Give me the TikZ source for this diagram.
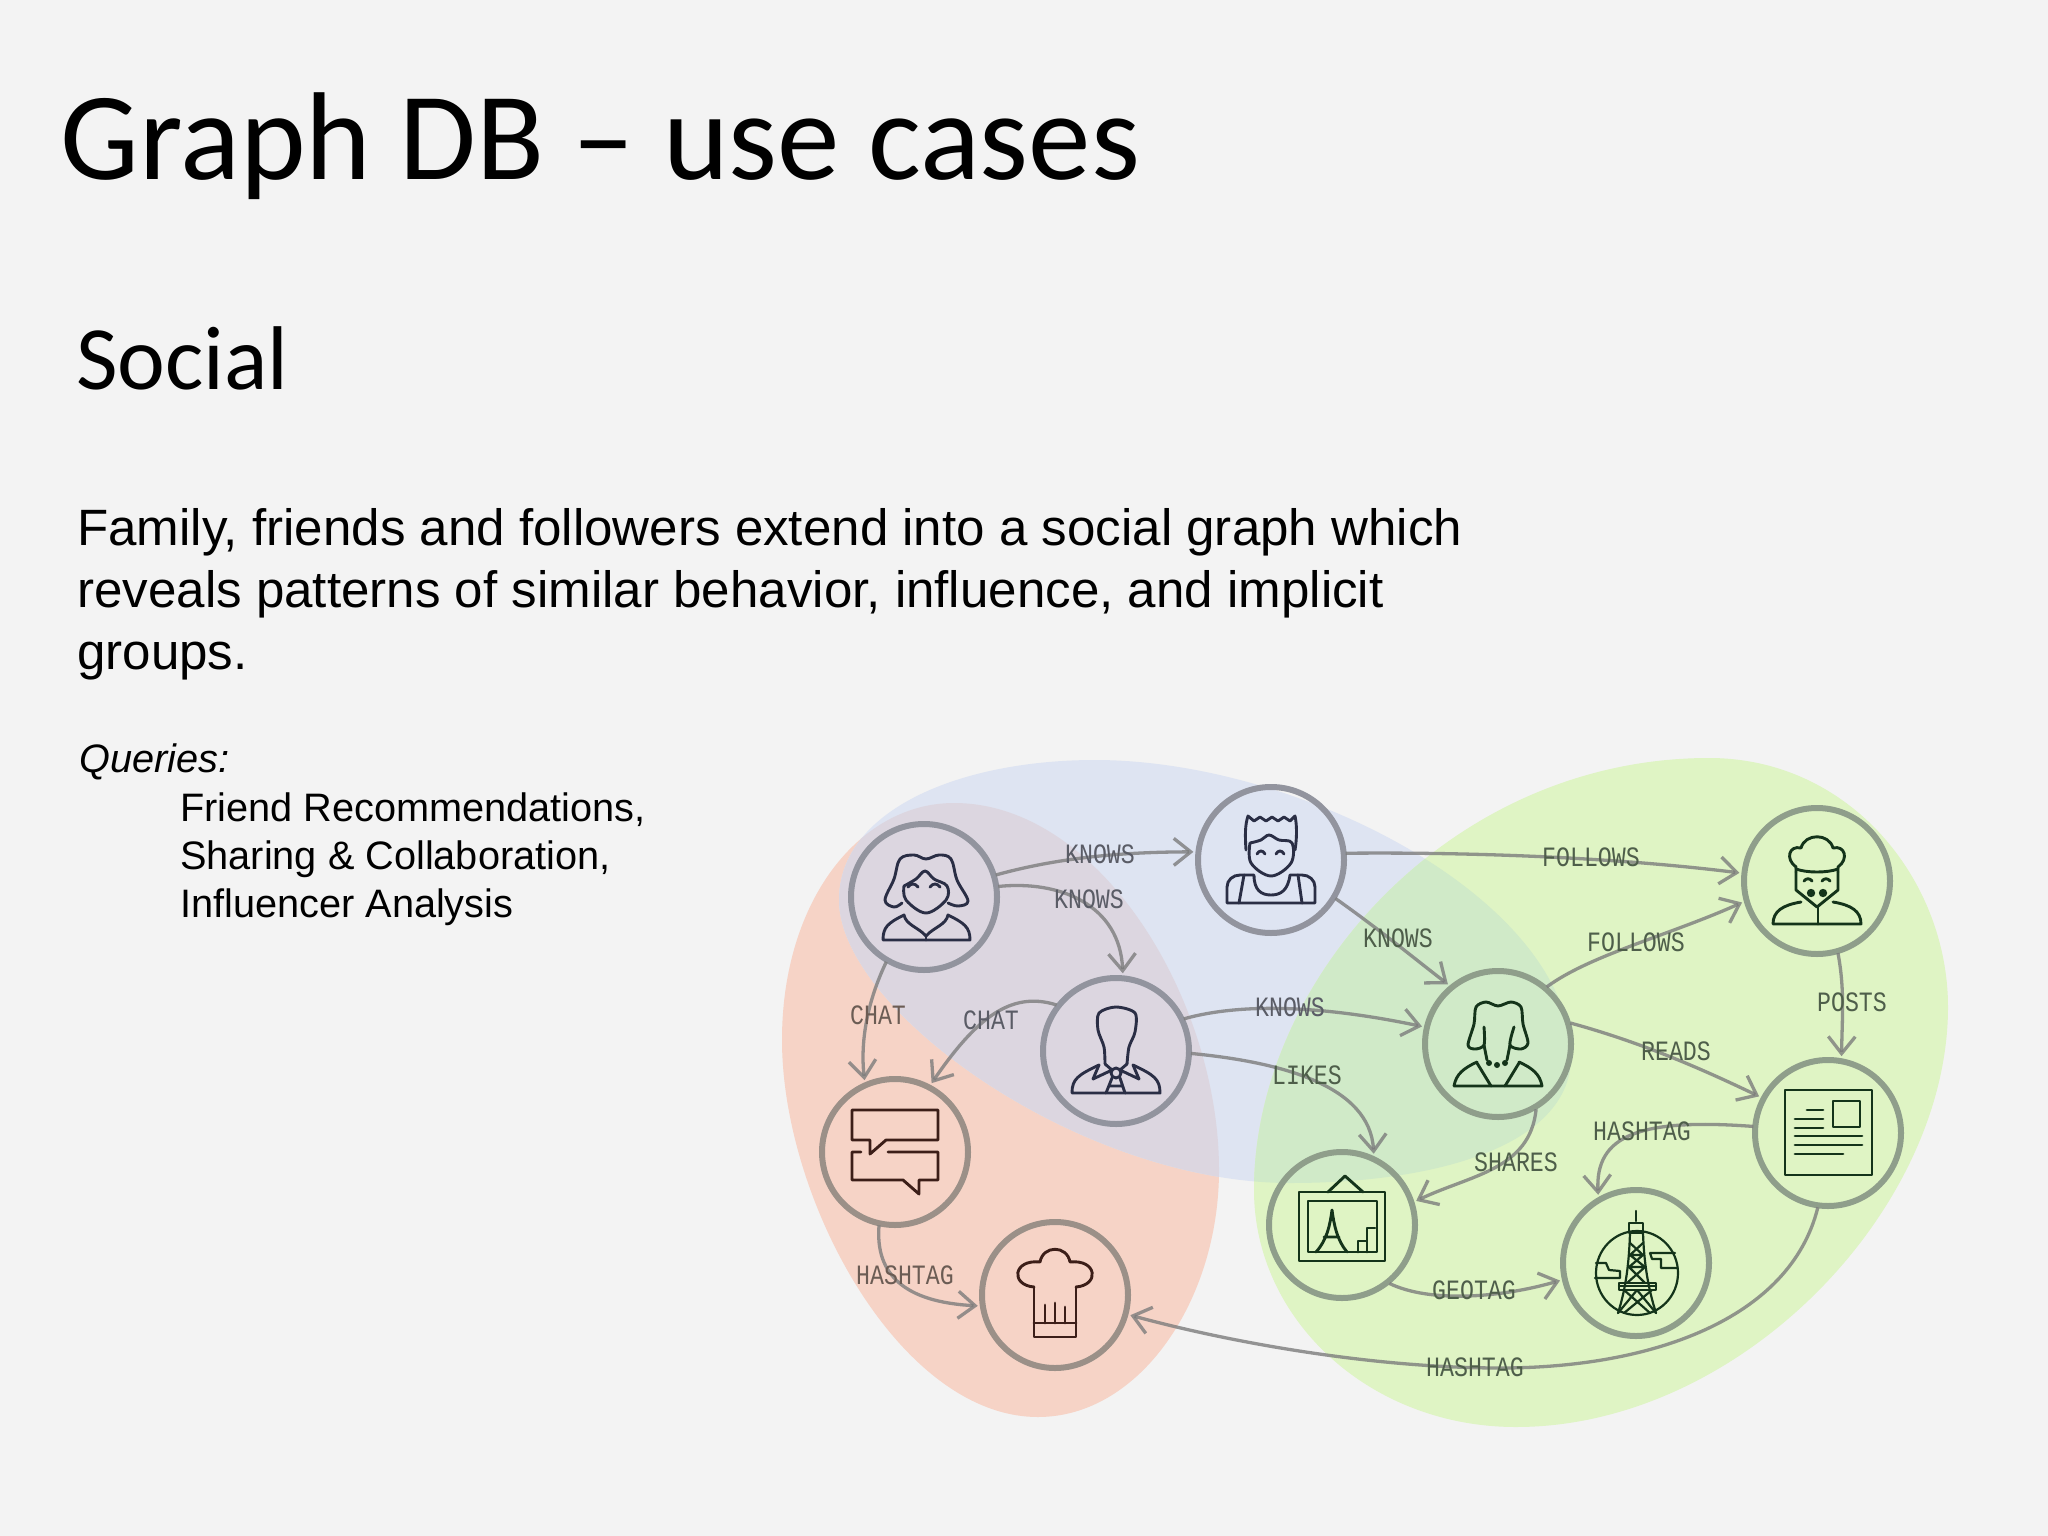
\documentclass[tikz,border=0pt]{standalone}
\usepackage{fontspec}
\setmainfont{Liberation Sans}
\newfontfamily\titlefont{Carlito}
\newfontfamily\edgefont[FakeStretch=0.83]{Liberation Mono}
\usetikzlibrary{arrows.meta}
\definecolor{pagebg}{HTML}{F3F3F3}
\definecolor{blobo}{HTML}{F6D3C6}
\definecolor{blobb}{HTML}{DEE4F2}
\definecolor{blobg}{HTML}{DFF4C4}
\definecolor{overob}{HTML}{DCD6E0}
\definecolor{overbg}{HTML}{D0EAC8}
\definecolor{ringo}{HTML}{9B9088}
\definecolor{ringb}{HTML}{92949E}
\definecolor{ringg}{HTML}{8F9E8B}
\definecolor{inko}{HTML}{3C1E18}
\definecolor{inkb}{HTML}{2A2E45}
\definecolor{inkg}{HTML}{14341A}
\definecolor{edgec}{HTML}{7C7C7C}
\definecolor{lblo}{HTML}{6B5C54}
\definecolor{lblb}{HTML}{5A5C66}
\definecolor{lblg}{HTML}{4E5E4A}
\tikzset{
  ring/.style={circle,draw=#1,line width=6pt,minimum size=146pt,inner sep=0pt,outer sep=5pt},
  edgeline/.style={draw=edgec,draw opacity=.8,line width=3.3pt,shorten <=-3pt,-{Straight Barb[length=17pt,width=27pt,line width=3.3pt]}},
  edgelabel/.style={text=#1,font=\edgefont\fontsize{28}{30}\selectfont,inner sep=0pt},
  icon/.style={draw=#1,line width=2.9pt,line join=round,line cap=round},
  slidetext/.style={anchor=north west,align=left,inner sep=0pt,text=black}
}
\def\orangeblob{(782,1040) .. controls (782,900) and (860,803) .. (954,803) .. controls (1100,803) and (1219,1000) .. (1219,1170) .. controls (1219,1300) and (1140,1417) .. (1038,1417) .. controls (900,1417) and (782,1200) .. (782,1040) -- cycle}
\def\blueblob{(839,900) .. controls (839,810) and (960,760) .. (1095,760) .. controls (1300,760) and (1571,900) .. (1571,1057) .. controls (1571,1140) and (1450,1183) .. (1290,1183) .. controls (1080,1183) and (839,1010) .. (839,900) -- cycle}
\def\greenblob{(1254,1190) .. controls (1254,980) and (1450,758) .. (1709,758) .. controls (1850,758) and (1948,880) .. (1948,1007) .. controls (1948,1210) and (1740,1427) .. (1516,1427) .. controls (1370,1427) and (1254,1320) .. (1254,1190) -- cycle}
\begin{document}
\begin{tikzpicture}[x=1pt,y=-1pt]
\useasboundingbox (0,0) rectangle (2048,1536);
\fill[pagebg] (0,0) rectangle (2048,1536);

% regions
\fill[blobo] \orangeblob;
\fill[blobb] \blueblob;
\fill[blobg] \greenblob;
\begin{scope}\clip \orangeblob; \fill[overob] \blueblob; \end{scope}
\begin{scope}\clip \greenblob; \fill[overbg] \blueblob; \end{scope}

% slide text
\node[anchor=base west,inner sep=0pt,font=\titlefont\fontsize{125}{130}\selectfont] (title) at (60,179) {Graph DB – use cases};
\node[anchor=base west,inner sep=0pt,font=\titlefont\fontsize{90.5}{96}\selectfont] (social) at (76,389) {Social};
\node[slidetext,font=\fontsize{51.1}{62}\selectfont] (intro) at (77,508) {Family, friends and followers extend into a social graph which\\reveals patterns of similar behavior, influence, and implicit\\groups.};
\node[anchor=base west,inner sep=0pt,font=\itshape\fontsize{39.7}{48}\selectfont] (queries) at (79,772) {Queries:};
\node[slidetext,font=\fontsize{39.7}{47.8}\selectfont] (qlist) at (180,792.5) {Friend Recommendations,\\Sharing \& Collaboration,\\Influencer Analysis};

% person / thing circles
\node[ring=ringb] (woman) at (924,897) {};
\node[ring=ringb] (man) at (1271,860) {};
\node[ring=ringb] (suit) at (1116,1051) {};
\node[ring=ringo] (chat) at (895,1152) {};
\node[ring=ringo] (hat) at (1055,1295) {};
\node[ring=ringg] (woman2) at (1498,1044) {};
\node[ring=ringg] (chef) at (1817,881) {};
\node[ring=ringg] (news) at (1828,1133) {};
\node[ring=ringg] (paint) at (1342,1225) {};
\node[ring=ringg] (tower) at (1636,1263) {};

% connectors
\draw[edgeline] (woman.17) .. controls (1050,860) and (1110,852) .. (man.174);
\draw[edgeline] (woman.8) .. controls (1060,880) and (1120,905) .. (suit.85);
\draw[edgeline] (woman.240) .. controls (868,1000) and (860,1040) .. (chat.113);
\draw[edgeline] (suit.143) .. controls (1010,990) and (975,1020) .. (chat.62);
\draw[edgeline] (chat.258) .. controls (875,1275) and (905,1302) .. (hat.188);
\draw[edgeline] (man.5) .. controls (1480,852) and (1620,858) .. (chef.174);
\draw[edgeline] (man.-31) .. controls (1380,930) and (1410,955) .. (woman2.130);
\draw[edgeline] (suit.25) .. controls (1240,1003) and (1320,1005) .. (woman2.167);
\draw[edgeline] (suit.-2) .. controls (1280,1062) and (1370,1085) .. (paint.66);
\draw[edgeline] (woman2.49) .. controls (1590,955) and (1670,935) .. (chef.196);
\draw[edgeline] (woman2.15) .. controls (1640,1042) and (1700,1068) .. (news.152);
\draw[edgeline] (chef.-74) .. controls (1845,990) and (1842,1020) .. (news.80);
\draw[edgeline] (woman2.-61) .. controls (1530,1170) and (1470,1175) .. (paint.18);
\draw[edgeline] (news.175) .. controls (1640,1118) and (1595,1135) .. (tower.119);
\draw[edgeline] (paint.-50) .. controls (1430,1303) and (1500,1298) .. (tower.193);
\draw[edgeline] (news.262) .. controls (1790,1320) and (1650,1368) .. (1500,1368) .. controls (1380,1368) and (1240,1345) .. (hat.-15);

% connector labels
\node[edgelabel=lblb] (l1) at (1100,854) {KNOWS};
\node[edgelabel=lblb] (l2) at (1089,899) {KNOWS};
\node[edgelabel=lblo] (l3) at (878,1015) {CHAT};
\node[edgelabel=lblb] (l4) at (991,1020) {CHAT};
\node[edgelabel=lblo] (l5) at (905,1275) {HASHTAG};
\node[edgelabel=lblb] (l6) at (1290,1007) {KNOWS};
\node[edgelabel=lblg] (l7) at (1307,1075) {LIKES};
\node[edgelabel=lblg] (l8) at (1591,857) {FOLLOWS};
\node[edgelabel=lblg] (l9) at (1398,938) {KNOWS};
\node[edgelabel=lblg] (l10) at (1636,942) {FOLLOWS};
\node[edgelabel=lblg] (l11) at (1852,1002) {POSTS};
\node[edgelabel=lblg] (l12) at (1676,1051) {READS};
\node[edgelabel=lblg] (l13) at (1642,1131) {HASHTAG};
\node[edgelabel=lblg] (l14) at (1516,1162) {SHARES};
\node[edgelabel=lblg] (l15) at (1474,1290) {GEOTAG};
\node[edgelabel=lblg] (l16) at (1475,1367) {HASHTAG};

% icon: woman
\begin{scope}[shift={(woman.center)}]
\draw[icon=inkb] plot[smooth,tension=.6] coordinates {(-22,6)(-30,10)(-39,3)(-30,-18)(-24,-38)(-10,-42)(2,-38)(15,-42)(27,-38)(33,-17)(44,4)(34,9)(24,6)};
\draw[icon=inkb] plot[smooth,tension=.6] coordinates {(-20,-11)(-8,-18)(1,-26)(10,-18)(23,-11)(22,3)(2,16)(-18,3)(-20,-11)};
\draw[icon=inkb] (-16,-10) .. controls (-13,-14) and (-9,-14) .. (-6,-10) (6,-10) .. controls (9,-14) and (13,-14) .. (16,-10);
\draw[icon=inkb] (-41,43) -- (46,43) .. controls (46,30) and (40,26) .. (24,18) .. controls (22,28) and (10,30) .. (2,39) .. controls (-6,30) and (-18,28) .. (-20,18) .. controls (-36,26) and (-41,30) .. (-41,43);
\draw[icon=inkb] (2,39) -- (2,43);
\end{scope}

% icon: spiky-haired man
\begin{scope}[shift={(man.center)}]
\draw[icon=inkb] (-25,-10) .. controls (-26,-25) and (-26,-35) .. (-23,-44) -- (-17,-39) -- (-11,-43) -- (-5,-39) -- (1,-43) -- (7,-39) -- (13,-43) -- (19,-39) -- (24,-44) .. controls (26,-35) and (26,-22) .. (24,-10);
\draw[icon=inkb] plot[smooth,tension=.6] coordinates {(-21,-17)(-10,-20)(-2,-25)(8,-20)(21,-17)(20,3)(0,16)(-20,3)(-21,-17)};
\draw[icon=inkb] (-14,-6) .. controls (-12,-10) and (-8,-10) .. (-6,-6) (5,-6) .. controls (7,-10) and (11,-10) .. (13,-6);
\draw[icon=inkb] (-44,43) -- (44,43) -- (44,27) .. controls (44,20) and (38,15) .. (31,15) (-44,43) -- (-44,27) .. controls (-44,20) and (-38,15) .. (-31,15) -- (-17,15) .. controls (-17,30) and (-10,35) .. (0,35) .. controls (10,35) and (17,30) .. (19,15) -- (31,15);
\draw[icon=inkb] (-27,15) -- (-32,43) (27,15) -- (31,43);
\end{scope}

% icon: man in a suit
\begin{scope}[shift={(suit.center)}]
\draw[icon=inkb] plot[smooth,tension=.5] coordinates {(-11,13)(-12,-4)(-18,-21)(-17,-38)(0,-44)(19,-38)(19,-19)(13,-4)(11,13)};
\draw[icon=inkb] (-44,42) -- (44,42) .. controls (44,28) and (38,24) .. (17,14) (-44,42) .. controls (-44,28) and (-38,24) .. (-17,14);
\draw[icon=inkb] (-17,14) -- (-23,28) -- (-4,19) -- (-11,13) (17,14) -- (23,28) -- (4,19) -- (11,13);
\draw[icon=inkb] (0,22) circle (5);
\draw[icon=inkb] (-10,42) -- (-4,27) (4,27) -- (9,42) (-7,35) -- (6,35);
\end{scope}

% icon: speech bubbles
\begin{scope}[shift={(chat.center)}]
\draw[icon=inko] (-43,-42) -- (43,-42) -- (43,-12) -- (-9,-12) -- (-25,2) -- (-25,-12) -- (-43,-12) -- cycle;
\draw[icon=inko] (-34,0) -- (-43,0) -- (-43,28) -- (8,28) -- (24,42) -- (24,28) -- (43,28) -- (43,0) -- (-7,0);
\end{scope}

% icon: toque
\begin{scope}[shift={(hat.center)}]
\draw[icon=inko] (-21,-8) .. controls (-45,-10) and (-42,-36) .. (-15,-33) .. controls (-12,-50) and (12,-50) .. (15,-33) .. controls (42,-36) and (45,-10) .. (21,-8);
\draw[icon=inko] (-21,-8) -- (-21,42) -- (21,42) -- (21,-8) (-21,28) -- (21,28);
\draw[icon=inko] (-10,10) -- (-10,28) (0,8) -- (0,28) (10,12) -- (10,28);
\end{scope}

% icon: chef
\begin{scope}[shift={(chef.center)}]
\draw[icon=inkg] (-21,-9) -- (-21,-14) .. controls (-32,-22) and (-28,-36) .. (-16,-33) .. controls (-12,-48) and (12,-48) .. (16,-33) .. controls (28,-36) and (32,-22) .. (21,-14) -- (21,-9);
\draw[icon=inkg] (-21,-12) .. controls (-10,-8) and (10,-8) .. (21,-12);
\draw[icon=inkg] (-21,-9) -- (-21,9) -- (0,26) -- (21,9) -- (21,-9);
\draw[icon=inkg] (-13,0) .. controls (-11,-3) and (-7,-3) .. (-5,0) (5,0) .. controls (7,-3) and (11,-3) .. (13,0);
\fill[inkg] (-6,12) circle (4.2) (6,12) circle (4.2);
\draw[icon=inkg] (-44,43) -- (44,43) .. controls (44,30) and (34,24) .. (16,21) (-44,43) .. controls (-44,30) and (-34,24) .. (-16,21);
\draw[icon=inkg] (1,26) -- (1,43);
\end{scope}

% icon: woman with necklace
\begin{scope}[shift={(woman2.center)}]
\draw[icon=inkg] plot[smooth,tension=.5] coordinates {(-14,-17)(-14,1)(-23,5)(-30,1)(-24,-20)(-22,-37)(-12,-42)(0,-38)(13,-42)(23,-37)(25,-20)(30,-1)(23,5)(12,1)(16,-17)};
\draw[icon=inkg] (-14,1) -- (-11,16) (12,1) -- (9,16);
\fill[inkg] (-9,19) circle (3) (-1,21) circle (3) (7,19) circle (3);
\draw[icon=inkg] (-44,42) -- (44,42) .. controls (42,30) and (34,24) .. (21,18) (-44,42) .. controls (-42,30) and (-34,24) .. (-21,18);
\draw[icon=inkg] (-21,19) -- (-7,42) (21,19) -- (7,42);
\end{scope}

% icon: newspaper
\begin{scope}[shift={(news.center)}]
\draw[icon=inkg] (-43,-43) rectangle (44,42) (5,-32) rectangle (32,-6);
\draw[icon=inkg] (-21,-23) -- (-5,-23) (-33,-14) -- (-5,-14) (-33,-5) -- (-5,-5) (-33,3) -- (34,3) (-33,12) -- (34,12) (-33,21) -- (15,21);
\end{scope}

% icon: painting
\begin{scope}[shift={(paint.center)}]
\draw[icon=inkg] (-43,-33) rectangle (43,36) (-34,-24) rectangle (35,27);
\draw[icon=inkg] (-14,-33) -- (3,-49) -- (21,-33);
\draw[icon=inkg] (-26,27) .. controls (-15,15) and (-12,0) .. (-10,-15) .. controls (-8,0) and (-5,15) .. (5,27) (-18,12) -- (-3,12);
\draw[icon=inkg] (16,27) -- (16,16) -- (25,16) -- (25,3) -- (33,3) (25,16) -- (25,27);
\end{scope}

% icon: tower
\begin{scope}[shift={(tower.center)}]
\draw[icon=inkg,line width=2.2pt] (1,10) ellipse (41 and 42);
\draw[icon=inkg,line width=2.2pt] (0,-52) -- (0,-42) (-7,-40) rectangle (7,-30);
\draw[icon=inkg,line width=2.2pt] (-6,-30) .. controls (-7,0) and (-10,25) .. (-18,50) (7,-30) .. controls (8,0) and (12,25) .. (20,50);
\draw[icon=inkg,line width=2.2pt] (-17,20) rectangle (20,27) (-17,23) -- (20,23);
\draw[icon=inkg,line width=2.2pt] (-6,-20) -- (7,-8) -- (-7,4) -- (9,20) (7,-20) -- (-6,-8) -- (9,4) -- (-9,20) (-6,-8) -- (7,-8) (-7,4) -- (9,4);
\draw[icon=inkg,line width=2.2pt] (-12,27) -- (14,50) (16,27) -- (-12,50) (1,27) -- (-18,50) (1,27) -- (20,50);
\draw[icon=inkg,line width=2.2pt] (-41,15) -- (-16,15) -- (-16,8) -- (-27,7) -- (-30,0) -- (-40,0);
\draw[icon=inkg,line width=2.2pt] (14,-10) -- (39,-10) (14,-10) -- (16,-4) -- (25,-4) -- (25,5) -- (41,5);
\end{scope}
\end{tikzpicture}
\end{document}
